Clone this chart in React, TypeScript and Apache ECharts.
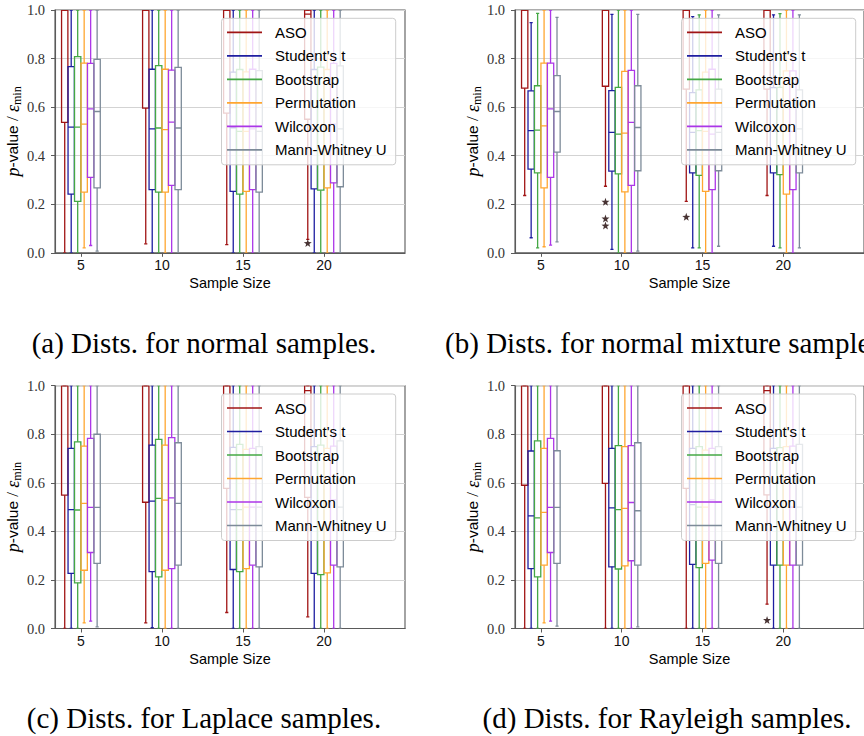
import React, { useEffect, useRef } from 'react';
import * as echarts from 'echarts';

// ---------- data ----------
const sampleSizes = [5, 10, 15, 20];
const methods = ['ASO', "Student's t", 'Bootstrap', 'Permutation', 'Wilcoxon', 'Mann-Whitney U'];
const methodColors = ['#a01414', '#1e1ea0', '#44a844', '#ffa630', '#ac36e8', '#7d8b99'];
const yTicks = [0, 0.2, 0.4, 0.6, 0.8, 1.0];
const captions = [
  '(a) Dists. for normal samples.',
  '(b) Dists. for normal mixture samples.',
  '(c) Dists. for Laplace samples.',
  '(d) Dists. for Rayleigh samples.',
];

// per method, per sample size: [whiskerLow, q1, median, q3, whiskerHigh]
const normalStats = [
  [[0, 0.537, 1, 1, 1], [0.037, 0.596, 1, 1, 1], [0.034, 0.575, 1, 1, 1], [0.055, 0.55, 0.983, 1, 1]],
  [[0, 0.242, 0.518, 0.767, 1], [0, 0.26, 0.51, 0.756, 1], [0, 0.253, 0.515, 0.744, 1], [0, 0.263, 0.51, 0.755, 1]],
  [[0, 0.212, 0.518, 0.808, 1], [0, 0.25, 0.514, 0.771, 1], [0, 0.242, 0.5, 0.755, 1], [0, 0.258, 0.5, 0.765, 1]],
  [[0.02, 0.25, 0.53, 0.781, 1], [0, 0.25, 0.507, 0.756, 1], [0, 0.253, 0.5, 0.745, 1], [0, 0.267, 0.51, 0.755, 1]],
  [[0.03, 0.311, 0.593, 0.78, 1], [0, 0.278, 0.538, 0.752, 1], [0, 0.26, 0.51, 0.756, 1], [0, 0.288, 0.53, 0.78, 1]],
  [[0.007, 0.267, 0.582, 0.797, 1], [0, 0.26, 0.514, 0.764, 1], [0, 0.25, 0.5, 0.75, 1], [0, 0.272, 0.51, 0.77, 1]],
];
const mixtureStats = [
  [[0.236, 0.678, 1, 1, 1], [0.274, 0.686, 1, 1, 1], [0.212, 0.674, 1, 1, 1], [0.236, 0.674, 1, 1, 1]],
  [[0.062, 0.345, 0.503, 0.667, 0.948], [0.014, 0.336, 0.496, 0.668, 0.982], [0.02, 0.329, 0.496, 0.66, 0.973], [0.027, 0.329, 0.5, 0.68, 0.98]],
  [[0.02, 0.329, 0.505, 0.688, 0.986], [0, 0.325, 0.489, 0.681, 1], [0.02, 0.319, 0.503, 0.671, 0.98], [0.02, 0.322, 0.5, 0.681, 0.985]],
  [[0.025, 0.267, 0.523, 0.781, 1], [0, 0.251, 0.493, 0.747, 1], [0, 0.253, 0.5, 0.744, 1], [0, 0.242, 0.5, 0.749, 1]],
  [[0.032, 0.311, 0.593, 0.781, 1], [0, 0.278, 0.537, 0.751, 1], [0, 0.26, 0.489, 0.756, 1], [0, 0.26, 0.5, 0.749, 1]],
  [[0.045, 0.415, 0.582, 0.73, 0.97], [0.007, 0.338, 0.516, 0.688, 0.982], [0.027, 0.338, 0.496, 0.674, 0.98], [0.02, 0.329, 0.51, 0.671, 0.98]],
];
const laplaceStats = [
  [[0, 0.549, 1, 1, 1], [0.023, 0.52, 1, 1, 1], [0.066, 0.577, 1, 1, 1], [0.048, 0.54, 0.98, 1, 1]],
  [[0, 0.227, 0.49, 0.742, 1], [0.003, 0.234, 0.525, 0.755, 1], [0, 0.243, 0.49, 0.746, 1], [0, 0.227, 0.5, 0.749, 1]],
  [[0, 0.188, 0.488, 0.769, 1], [0, 0.213, 0.536, 0.779, 1], [0, 0.234, 0.49, 0.758, 1], [0, 0.222, 0.5, 0.755, 1]],
  [[0.023, 0.24, 0.515, 0.751, 1], [0, 0.24, 0.529, 0.755, 1], [0, 0.247, 0.5, 0.738, 1], [0, 0.229, 0.5, 0.742, 1]],
  [[0.03, 0.313, 0.499, 0.783, 1], [0, 0.247, 0.538, 0.786, 1], [0, 0.261, 0.5, 0.742, 1], [0, 0.261, 0.53, 0.751, 1]],
  [[0.007, 0.268, 0.499, 0.8, 1], [0, 0.261, 0.515, 0.765, 1], [0, 0.254, 0.5, 0.749, 1], [0, 0.254, 0.5, 0.773, 1]],
];
const rayleighStats = [
  [[0, 0.59, 1, 1, 1], [0, 0.598, 1, 1, 1], [0, 0.577, 1, 1, 1], [0.1, 0.55, 0.98, 1, 1]],
  [[0, 0.247, 0.464, 0.731, 1], [0, 0.254, 0.497, 0.742, 1], [0, 0.264, 0.51, 0.742, 1], [0, 0.261, 0.5, 0.742, 1]],
  [[0, 0.213, 0.456, 0.773, 1], [0, 0.245, 0.49, 0.753, 1], [0, 0.251, 0.5, 0.749, 1], [0, 0.261, 0.5, 0.745, 1]],
  [[0.023, 0.261, 0.478, 0.742, 1], [0, 0.258, 0.495, 0.749, 1], [0, 0.268, 0.5, 0.735, 1], [0, 0.261, 0.5, 0.749, 1]],
  [[0.03, 0.313, 0.499, 0.783, 1], [0, 0.279, 0.519, 0.753, 1], [0, 0.282, 0.53, 0.742, 1], [0, 0.261, 0.5, 0.751, 1]],
  [[0.01, 0.268, 0.499, 0.732, 1], [0.007, 0.261, 0.485, 0.765, 1], [0, 0.268, 0.52, 0.749, 1], [0, 0.261, 0.5, 0.758, 1]],
];
// ASO outliers: [sampleSize, value]
const normalOutliers = [[20, 0.04]];
const mixtureOutliers = [[10, 0.21], [10, 0.141], [10, 0.112], [15, 0.148]];
const laplaceOutliers: number[][] = [];
const rayleighOutliers = [[20, 0.035]];

const panelStats = [normalStats, mixtureStats, laplaceStats, rayleighStats];
const panelOutliers = [normalOutliers, mixtureOutliers, laplaceOutliers, rayleighOutliers];

// ---------- layout ----------
const panels = [
  { left: 55, top: 10, cx: 204, cy: 343 },
  { left: 515, top: 10, cx: 667, cy: 343 },
  { left: 55, top: 385.7, cx: 204, cy: 718 },
  { left: 515, top: 385.7, cx: 667, cy: 718 },
];
const PW = 350;
const PH = 242.8;
const BOX_STEP = 0.4;
const BOX_W = 0.39;
const LW = 1.3;
const STAR = 'path://M0,-10 L2.35,-3.24 L9.51,-3.09 L3.8,1.24 L5.88,8.09 L0,4 L-5.88,8.09 L-3.8,1.24 L-9.51,-3.09 L-2.35,-3.24 Z';

const offset = (i: number) => (i - 2.5) * BOX_STEP;

function boxSeries(p: number, m: number) {
  const color = methodColors[m];
  const stats = panelStats[p][m];
  return {
    type: 'custom',
    name: methods[m],
    xAxisIndex: p,
    yAxisIndex: p,
    clip: true,
    z: 3,
    itemStyle: { color },
    encode: { x: 0, y: [1, 2, 3, 4, 5] },
    data: sampleSizes.map((s, k) => [s + offset(m), ...stats[k]]),
    renderItem: (_params: any, api: any) => {
      const x = api.value(0);
      const c = api.coord([x, api.value(1)]);
      const cx = c[0];
      const yLow = c[1];
      const yQ1 = api.coord([x, api.value(2)])[1];
      const yMed = api.coord([x, api.value(3)])[1];
      const yQ3 = api.coord([x, api.value(4)])[1];
      const yHigh = api.coord([x, api.value(5)])[1];
      const w = api.size([BOX_W, 0])[0];
      const cw = w * 0.5;
      const st = () => ({ stroke: color, fill: 'none', lineWidth: LW });
      const line = (x1: number, y1: number, x2: number, y2: number) => ({
        type: 'line',
        shape: { x1, y1, x2, y2 },
        style: st(),
      });
      return {
        type: 'group',
        children: [
          line(cx, yQ1, cx, yLow),
          line(cx - cw / 2, yLow, cx + cw / 2, yLow),
          line(cx, yQ3, cx, yHigh),
          line(cx - cw / 2, yHigh, cx + cw / 2, yHigh),
          { type: 'rect', shape: { x: cx - w / 2, y: yQ3, width: w, height: yQ1 - yQ3 }, style: st() },
          line(cx - w / 2, yMed, cx + w / 2, yMed),
        ],
      };
    },
  };
}

function buildOption() {
  const grids: any[] = [];
  const xAxes: any[] = [];
  const yAxes: any[] = [];
  const legends: any[] = [];
  const series: any[] = [];
  const graphics: any[] = [];

  panels.forEach((pn, p) => {
    grids.push({
      left: pn.left,
      top: pn.top,
      width: PW,
      height: PH,
      show: true,
      borderColor: '#5a5a5a',
      borderWidth: 1.1,
      backgroundColor: 'transparent',
    });
    xAxes.push({
      type: 'value',
      gridIndex: p,
      min: 3.4,
      max: 25,
      name: 'Sample Size',
      nameLocation: 'middle',
      nameGap: 23,
      nameTextStyle: { fontFamily: 'Liberation Sans', fontSize: 14.5, color: '#000' },
      axisLine: { show: true, lineStyle: { color: '#5a5a5a', width: 1.1 } },
      axisTick: { show: true, length: 4, lineStyle: { color: '#5a5a5a' }, customValues: sampleSizes },
      axisLabel: {
        show: true,
        margin: 5,
        fontFamily: 'Liberation Sans',
        fontSize: 14,
        color: '#111',
        customValues: sampleSizes,
      },
      splitLine: { show: false },
    });
    yAxes.push({
      type: 'value',
      gridIndex: p,
      min: 0,
      max: 1,
      interval: 0.2,
      name: '{it|p}{sf|-value}{rm| / }{it|ε}{sub|min}',
      nameLocation: 'middle',
      nameGap: 30,
      nameTextStyle: {
        fontFamily: 'Liberation Serif',
        fontSize: 16,
        color: '#000',
        rich: {
          it: { fontFamily: 'Liberation Serif', fontStyle: 'italic', fontSize: 18, color: '#000', lineHeight: 20 },
          sf: { fontFamily: 'Liberation Sans', fontSize: 15.5, color: '#000', lineHeight: 20 },
          rm: { fontFamily: 'Liberation Serif', fontSize: 17, color: '#000', lineHeight: 20 },
          sub: { fontFamily: 'Liberation Serif', fontSize: 12, color: '#000', lineHeight: 11, verticalAlign: 'bottom' },
        },
      },
      axisLine: { show: true, lineStyle: { color: '#5a5a5a', width: 1.1 } },
      axisTick: { show: true, length: 4, lineStyle: { color: '#5a5a5a' } },
      axisLabel: {
        margin: 10,
        fontFamily: 'Liberation Serif',
        fontSize: 14.5,
        color: '#333',
        formatter: (v: number) => (yTicks.some((t) => Math.abs(t - v) < 1e-6) ? v.toFixed(1) : ''),
      },
      splitLine: { show: true, lineStyle: { color: '#d3d3d3', width: 1.2 } },
    });
    legends.push({
      orient: 'vertical',
      left: pn.left + 166.5,
      top: pn.top + 8.3,
      padding: [6.5, 9, 7.5, 5.5],
      itemGap: 8.5,
      itemWidth: 35,
      itemHeight: 1.7,
      selectedMode: false,
      backgroundColor: 'rgba(255,255,255,0.8)',
      borderColor: '#cccccc',
      borderWidth: 1,
      borderRadius: 3,
      z: 10,
      textStyle: {
        fontFamily: 'Liberation Sans',
        fontSize: 15,
        lineHeight: 15,
        color: '#000',
        padding: [0, 0, 0, 8],
      },
      data: methods.map((m, i) => ({ name: m, icon: 'rect', itemStyle: { color: methodColors[i] } })),
    });
    methods.forEach((_m, m) => series.push(boxSeries(p, m)));
    series.push({
      type: 'scatter',
      name: 'outliers',
      xAxisIndex: p,
      yAxisIndex: p,
      symbol: STAR,
      symbolSize: 8,
      z: 4,
      itemStyle: { color: '#1a0000' },
      data: panelOutliers[p].map((d) => [d[0] + offset(0), d[1]]),
    });
    graphics.push({
      type: 'text',
      x: pn.cx,
      y: pn.cy,
      style: {
        text: captions[p],
        fill: '#000',
        font: '29px "Liberation Serif"',
        align: 'center',
        verticalAlign: 'middle',
      },
    });
  });

  return {
    animation: false,
    backgroundColor: '#ffffff',
    grid: grids,
    xAxis: xAxes,
    yAxis: yAxes,
    legend: legends,
    series,
    graphic: graphics,
  };
}

export default function App() {
  const ref = useRef<HTMLDivElement>(null);
  useEffect(() => {
    if (!ref.current) return;
    const chart = echarts.init(ref.current, undefined, { renderer: 'svg' });
    chart.setOption(buildOption() as any);
    return () => chart.dispose();
  }, []);
  return (
    <div
      ref={ref}
      style={{ position: 'fixed', left: 0, top: 0, width: 864, height: 736, background: '#fff' }}
    />
  );
}
